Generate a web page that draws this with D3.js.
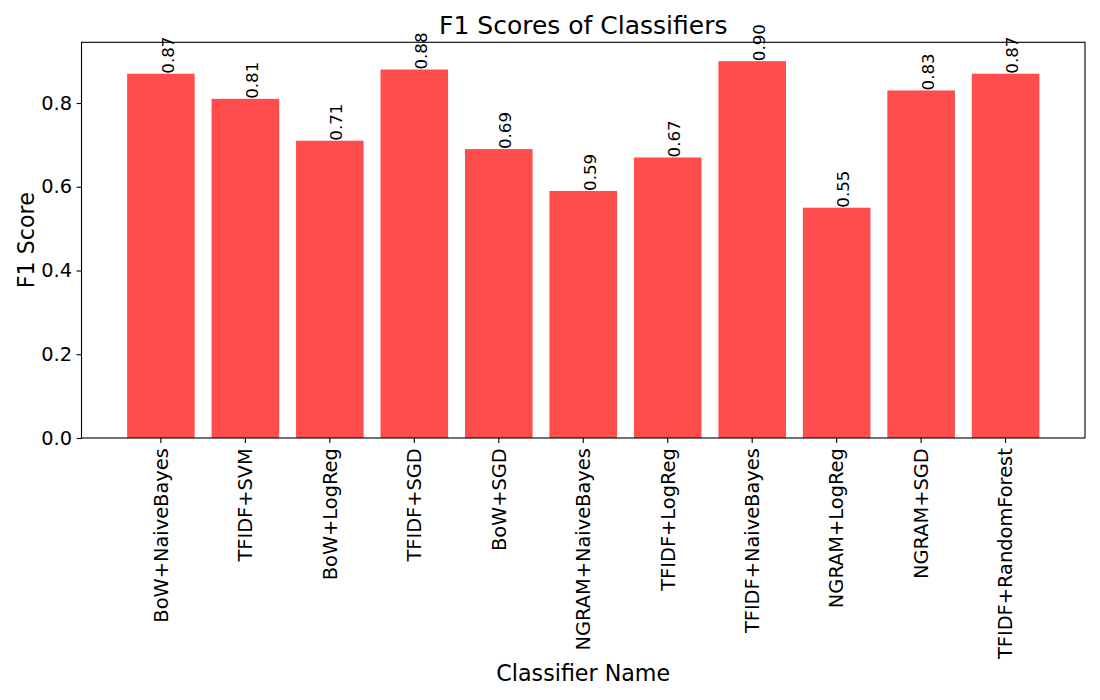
<!doctype html>
<head>
    <meta charset="utf-8">
</head>
<title>F1 Scores of Classifiers</title>
<style>
    body { margin: 0; background: #fff; }
    svg { display: block; font-family: "DejaVu Sans", sans-serif; }
    .axis path { display: none; }
    .axis line { stroke: #000; stroke-width: 1.1; }
    .axis text { fill: #000; font-size: 19.4px; font-family: "DejaVu Sans", sans-serif; }
</style>
<script src="https://cdn.jsdelivr.net/npm/d3@7/dist/d3.min.js"></script>
<div id="chart"></div>

<script>
    // data
    var classifiers = ["BoW+NaiveBayes", "TFIDF+SVM", "BoW+LogReg", "TFIDF+SGD", "BoW+SGD",
        "NGRAM+NaiveBayes", "TFIDF+LogReg", "TFIDF+NaiveBayes", "NGRAM+LogReg", "NGRAM+SGD",
        "TFIDF+RandomForest"];
    var f1Scores = [0.87, 0.81, 0.71, 0.88, 0.69, 0.59, 0.67, 0.90, 0.55, 0.83, 0.87];
    var yTicks = [0.0, 0.2, 0.4, 0.6, 0.8];

    var width = 1100, height = 700;
    var plotLeft = 81.5, plotRight = 1085, plotTop = 42.3, plotBottom = 438;

    var svg = d3.select("#chart").append("svg")
        .attr("width", width)
        .attr("height", height);

    var x = d3.scaleBand()
        .domain(classifiers)
        .range([plotLeft, plotRight])
        .paddingInner(0.2)
        .paddingOuter(0.54);

    var y = d3.scaleLinear()
        .domain([0, d3.max(f1Scores) * 1.05])
        .range([plotBottom, plotTop]);

    var data = classifiers.map(function(c, i) { return {name: c, value: f1Scores[i]}; });

    // bars
    svg.append("g").selectAll("rect")
        .data(data)
        .join("rect")
        .attr("x", d => x(d.name))
        .attr("y", d => y(d.value))
        .attr("width", x.bandwidth())
        .attr("height", d => y(0) - y(d.value))
        .attr("fill", "red")
        .attr("fill-opacity", 0.7);

    // frame
    svg.append("rect")
        .attr("x", plotLeft).attr("y", plotTop)
        .attr("width", plotRight - plotLeft).attr("height", plotBottom - plotTop)
        .attr("fill", "none").attr("stroke", "#000").attr("stroke-width", 1.1);

    // y axis
    svg.append("g")
        .attr("class", "axis")
        .attr("transform", "translate(" + plotLeft + ",0)")
        .call(d3.axisLeft(y).tickValues(yTicks).tickFormat(d3.format(".1f"))
            .tickSize(4.9).tickPadding(4.5));

    // x axis, labels turned upright
    var xAxis = svg.append("g")
        .attr("class", "axis")
        .attr("transform", "translate(0," + plotBottom + ")")
        .call(d3.axisBottom(x).tickSize(4.9).tickPadding(0));
    xAxis.selectAll("text")
        .attr("text-anchor", "end")
        .attr("dy", null)
        .attr("y", null)
        .attr("transform", "translate(6.8,10.2) rotate(-90)");

    // value labels above the bars
    svg.append("g").selectAll("text")
        .data(data)
        .join("text")
        .attr("transform", d => "translate(" + (x(d.name) + x.bandwidth() / 2 + 12.6) + "," + y(d.value) + ") rotate(-90)")
        .attr("font-size", "16.67px")
        .attr("fill", "#000")
        .text(d => d3.format(".2f")(d.value));

    // titles
    svg.append("text")
        .attr("x", (plotLeft + plotRight) / 2).attr("y", 33.5)
        .attr("text-anchor", "middle")
        .attr("font-size", "25px")
        .text("F1 Scores of Classifiers");

    svg.append("text")
        .attr("x", (plotLeft + plotRight) / 2).attr("y", 681)
        .attr("text-anchor", "middle")
        .attr("font-size", "22.2px")
        .text("Classifier Name");

    svg.append("text")
        .attr("transform", "translate(33.5," + (plotTop + plotBottom) / 2 + ") rotate(-90)")
        .attr("text-anchor", "middle")
        .attr("font-size", "22.2px")
        .text("F1 Score");
</script>
